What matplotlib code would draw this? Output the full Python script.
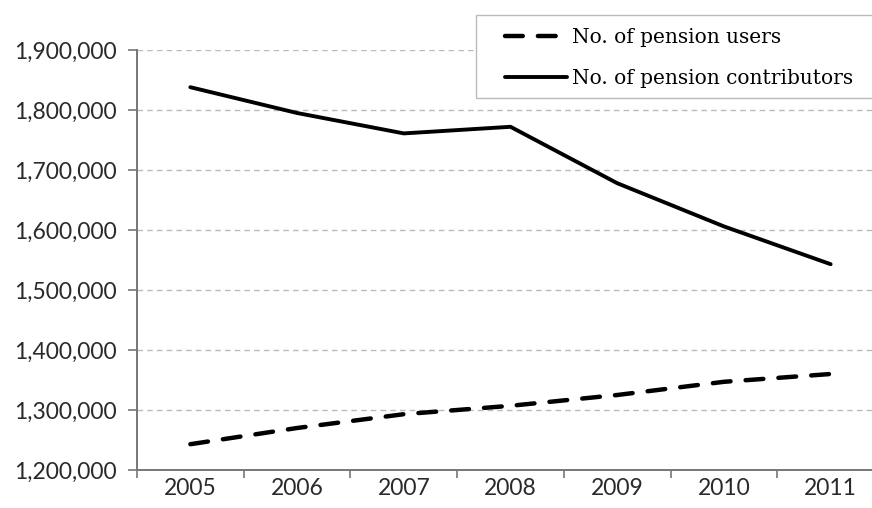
import matplotlib
matplotlib.use('Agg')
import matplotlib.pyplot as plt
from matplotlib.patches import Rectangle
from matplotlib.ticker import FuncFormatter

years = ['2005', '2006', '2007', '2008', '2009', '2010', '2011']
pension_users = [1243000, 1270000, 1293000, 1307000, 1325000, 1347000, 1360000]
pension_contributors = [1838000, 1795000, 1761000, 1772000, 1678000, 1606000, 1543000]

W, H = 872, 508
fig = plt.figure(figsize=(W / 100, H / 100), dpi=100)
# axes extend slightly past the right edge, as in the cropped original
ax = fig.add_axes([137 / W, 38 / H, 747 / W, 420 / H])

x = range(len(years))
ax.plot(x, pension_users, color='black', linewidth=3.2, linestyle=(0, (4, 3.4)),
        dash_capstyle='round', label='No. of pension users')
ax.plot(x, pension_contributors, color='black', linewidth=2.8,
        solid_capstyle='round', label='No. of pension contributors')

ax.set_xlim(-0.5, len(years) - 0.5)
ax.set_ylim(1200000, 1900000)
ax.set_yticks(range(1200000, 1900001, 100000))
ax.yaxis.set_major_formatter(FuncFormatter(lambda v, p: f'{int(v):,}'))

ax.set_xticks([i - 0.5 for i in range(len(years) + 1)])
ax.set_xticklabels([])
ax.set_xticks(list(x), minor=True)
ax.set_xticklabels(years, minor=True)
ax.tick_params(axis='x', which='minor', length=0, pad=6)
ax.tick_params(axis='x', which='major', length=6, width=1.2, color='#777777')
ax.tick_params(axis='y', length=6.5, width=1.2, color='#777777', pad=8)

for lbl in ax.get_xticklabels(minor=True) + ax.get_yticklabels():
    lbl.set_fontfamily('Lato')
    lbl.set_fontsize(16.5)
    lbl.set_color('#2a2a2a')

ax.grid(axis='y', color='#bbbbbb', linestyle=(0, (4, 3)), linewidth=1)
ax.set_axisbelow(True)
for side in ['top', 'right']:
    ax.spines[side].set_visible(False)
for side in ['left', 'bottom']:
    ax.spines[side].set_color('#777777')
    ax.spines[side].set_linewidth(1.4)

# legend box: white frame running off the right edge
ax.add_patch(Rectangle((476 / W, 1 - 98 / H), 420 / W, 83 / H,
                       transform=fig.transFigure, facecolor='white',
                       edgecolor='#bbbbbb', linewidth=1, zorder=3, clip_on=False))
leg = ax.legend(loc='center left', bbox_to_anchor=(505 / W, 1 - 58 / H),
                bbox_transform=fig.transFigure, frameon=False,
                prop={'family': 'DejaVu Serif', 'size': 14.5}, handlelength=3.1,
                handletextpad=0.25, borderpad=0, labelspacing=1.1,
                borderaxespad=0)
leg.set_zorder(5)

plt.savefig('out.png', dpi=100)
plt.close()
